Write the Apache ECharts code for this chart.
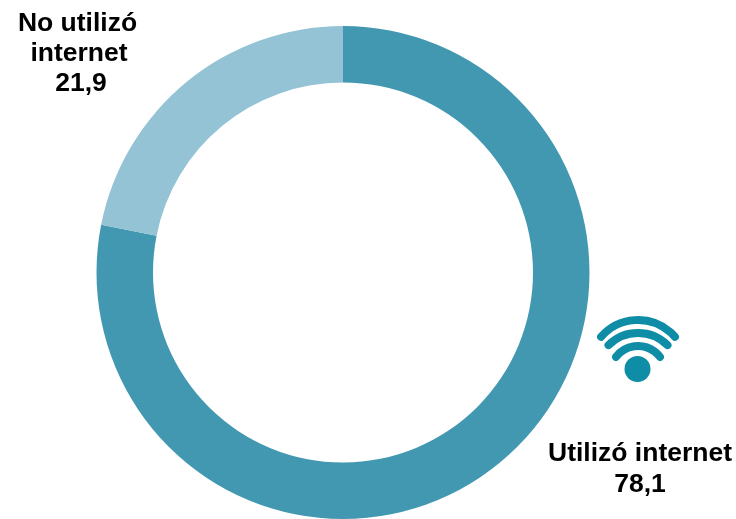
<!DOCTYPE html>
<html>
<head>
<meta charset="utf-8">
<style>html,body{margin:0;padding:0;background:#fff}#main{width:736px;height:519px}</style>
<script src="https://cdn.jsdelivr.net/npm/echarts@6/dist/echarts.min.js"></script>
</head>
<body>
<div id="main"></div>
<script>
var categories = ['Utilizó internet', 'No utilizó internet'];
var values = [78.1, 21.9];
var colors = ['#4398B1', '#93C3D5'];

var chart = echarts.init(document.getElementById('main'));
var font = '"Liberation Sans", Arial, sans-serif';

function label(txt, x, y) {
    return {
        type: 'text',
        x: x,
        y: y,
        style: { text: txt, fill: '#000', font: 'bold 26.5px ' + font, align: 'center', verticalAlign: 'middle' }
    };
}

function fmt(v) {
    return String(v).replace('.', ',');
}

// wifi icon arcs, half is half the opening angle in degrees
function wifiArc(cy, r, half) {
    var a = half * Math.PI / 180;
    return {
        type: 'arc',
        shape: { cx: 638, cy: cy, r: r, startAngle: -Math.PI / 2 - a, endAngle: -Math.PI / 2 + a },
        style: { stroke: '#0F8CA6', lineWidth: 8, fill: null, lineCap: 'round' }
    };
}

chart.setOption({
    animation: false,
    series: [{
        type: 'pie',
        center: [343, 272.5],
        radius: [190, 246.5],
        startAngle: 90,
        clockwise: true,
        silent: true,
        label: { show: false },
        labelLine: { show: false },
        data: categories.map(function (c, i) {
            return { name: c, value: values[i], itemStyle: { color: colors[i] } };
        })
    }],
    graphic: [
        label('No utilizó', 77.5, 24),
        label('internet', 79, 54),
        label(fmt(values[1]), 81, 84),
        label(categories[0], 640, 454),
        label(fmt(values[0]), 640, 485),
        { type: 'circle', shape: { cx: 637.5, cy: 369, r: 13 }, style: { fill: '#0F8CA6' } },
        wifiArc(369, 49, 49),
        wifiArc(375, 42, 44.6),
        wifiArc(373.5, 27.5, 53)
    ]
});
</script>
</body>
</html>
